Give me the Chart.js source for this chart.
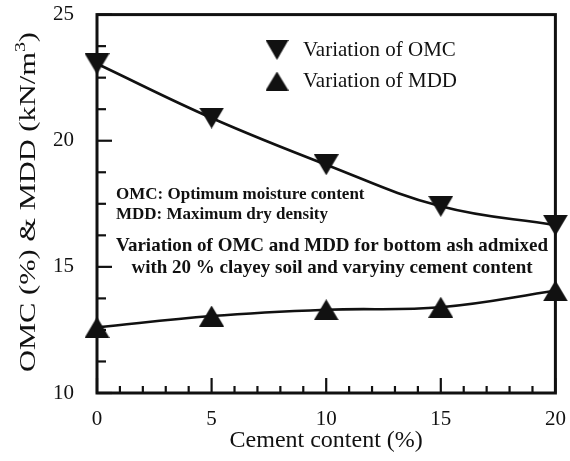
<!DOCTYPE html>
<html><head><meta charset="utf-8">
<script src="https://cdn.jsdelivr.net/npm/chart.js@4"></script>
<style>html,body{margin:0;padding:0;background:#fff}</style></head>
<body>
<div style="width:570px;height:461px;position:relative"><canvas id="c"></canvas></div>
<script>
const cementContent = [0, 5, 10, 15, 20];
const omcValues = [23.05, 20.9, 19.05, 17.4, 16.65];
const mddValues = [12.6, 13.05, 13.3, 13.4, 14.05];
const seriesLabels = ['Variation of OMC', 'Variation of MDD'];
const xTitle = 'Cement content (%)';
const yTitleParts = ['OMC (%) & MDD (kN/m', '3', ')'];
const noteLines = ['OMC: Optimum moisture content', 'MDD: Maximum dry density'];
const captionLines = ['Variation of OMC and MDD for bottom ash admixed', 'with 20 % clayey soil and varyiny cement content'];

const SERIF = '"Liberation Serif", "Times New Roman", serif';
const INK = '#111';

function triCanvas(w, h, down) {
  const c = document.createElement('canvas');
  c.width = w; c.height = h;
  const g = c.getContext('2d');
  g.fillStyle = INK;
  g.beginPath();
  if (down) { g.moveTo(0, 0); g.lineTo(w, 0); g.lineTo(w / 2, h); }
  else { g.moveTo(w / 2, 0); g.lineTo(w, h); g.lineTo(0, h); }
  g.closePath(); g.fill();
  return c;
}
const downTri = triCanvas(25, 21, true);
const upTri = triCanvas(25, 21, false);
const legendDown = triCanvas(23, 20, true);
const legendUp = triCanvas(23, 19, false);

const decor = {
  id: 'decor',
  afterDraw(chart) {
    const ctx = chart.ctx;
    ctx.save();
    ctx.fillStyle = INK;
    const lx = 277, ly = [50, 81];
    ctx.drawImage(legendDown, lx - 11.5, ly[0] - 10);
    ctx.drawImage(legendUp, lx - 11.5, ly[1] - 9.5);
    ctx.font = '21px ' + SERIF; ctx.textBaseline = 'middle'; ctx.textAlign = 'left';
    ctx.fillText(seriesLabels[0], 303, ly[0]);
    ctx.fillText(seriesLabels[1], 303, ly[1]);
    ctx.font = 'bold 17px ' + SERIF;
    ctx.fillText(noteLines[0], 116, 195);
    ctx.fillText(noteLines[1], 116, 215);
    ctx.font = 'bold 19px ' + SERIF; ctx.textAlign = 'center';
    ctx.fillText(captionLines[0], 332, 246);
    ctx.fillText(captionLines[1], 332, 268);
    ctx.save();
    ctx.translate(27, 202);
    ctx.rotate(-Math.PI / 2);
    const fMain = '23px ' + SERIF, fSup = '15px ' + SERIF;
    ctx.font = fMain; const w0 = ctx.measureText(yTitleParts[0]).width; const w2 = ctx.measureText(yTitleParts[2]).width;
    ctx.font = fSup; const w1 = ctx.measureText(yTitleParts[1]).width;
    const total = w0 + w1 + w2;
    ctx.scale(340 / total, 1);
    let x = -total / 2;
    ctx.textAlign = 'left'; ctx.textBaseline = 'alphabetic';
    ctx.font = fMain; ctx.fillText(yTitleParts[0], x, 8); x += w0;
    ctx.font = fSup; ctx.fillText(yTitleParts[1], x, -2); x += w1;
    ctx.font = fMain; ctx.fillText(yTitleParts[2], x, 8);
    ctx.restore();
    ctx.restore();
  },
  beforeDatasetsDraw(chart) {
    const ctx = chart.ctx, a = chart.chartArea, xs = chart.scales.x, ys = chart.scales.y;
    ctx.save();
    ctx.strokeStyle = INK; ctx.lineWidth = 3; ctx.lineJoin = 'miter';
    ctx.strokeRect(a.left, a.top, a.right - a.left, a.bottom - a.top);
    ctx.lineWidth = 2.2; ctx.lineCap = 'butt';
    for (let v = 0; v <= 20; v += 1) {
      const px = xs.getPixelForValue(v);
      const len = v % 5 === 0 ? 15 : 7;
      ctx.beginPath(); ctx.moveTo(px, a.bottom); ctx.lineTo(px, a.bottom - len); ctx.stroke();
    }
    for (let v = 10; v <= 25.001; v += 1.25) {
      const py = ys.getPixelForValue(v);
      const len = Math.abs(v % 5) < 0.01 ? 15 : 9;
      ctx.beginPath(); ctx.moveTo(a.left, py); ctx.lineTo(a.left + len, py); ctx.stroke();
    }
    ctx.restore();
  }
};

new Chart(document.getElementById('c'), {
  type: 'line',
  data: {
    datasets: [
      { label: seriesLabels[0], data: cementContent.map((x, i) => ({ x, y: omcValues[i] })),
        borderColor: INK, backgroundColor: INK, borderWidth: 2.6, tension: 0.4, clip: false,
        pointStyle: downTri, pointRadius: 12, pointHoverRadius: 12 },
      { label: seriesLabels[1], data: cementContent.map((x, i) => ({ x, y: mddValues[i] })),
        borderColor: INK, backgroundColor: INK, borderWidth: 2.6, tension: 0.4, clip: false,
        pointStyle: upTri, pointRadius: 12, pointHoverRadius: 12 }
    ]
  },
  options: {
    responsive: true, maintainAspectRatio: false, animation: false,
    layout: { padding: 0 },
    plugins: { legend: { display: false }, tooltip: { enabled: false } },
    scales: {
      x: {
        type: 'linear', min: 0, max: 20,
        ticks: { stepSize: 5, color: INK, font: { family: SERIF, size: 21 }, padding: 6 },
        grid: { display: false }, border: { display: false },
        title: { display: true, text: xTitle, color: INK, font: { family: SERIF, size: 24 }, padding: { top: 0, bottom: 6 } },
        afterFit(s) { s.height = 68; s.paddingRight = 13; s.paddingLeft = 0; }
      },
      y: {
        min: 10, max: 25,
        ticks: { stepSize: 5, color: INK, font: { family: SERIF, size: 21 }, padding: 15 },
        grid: { display: false }, border: { display: false },
        afterFit(s) { s.width = 97; s.paddingTop = 13; s.paddingBottom = 0; }
      }
    }
  },
  plugins: [decor]
});
</script>
</body></html>
